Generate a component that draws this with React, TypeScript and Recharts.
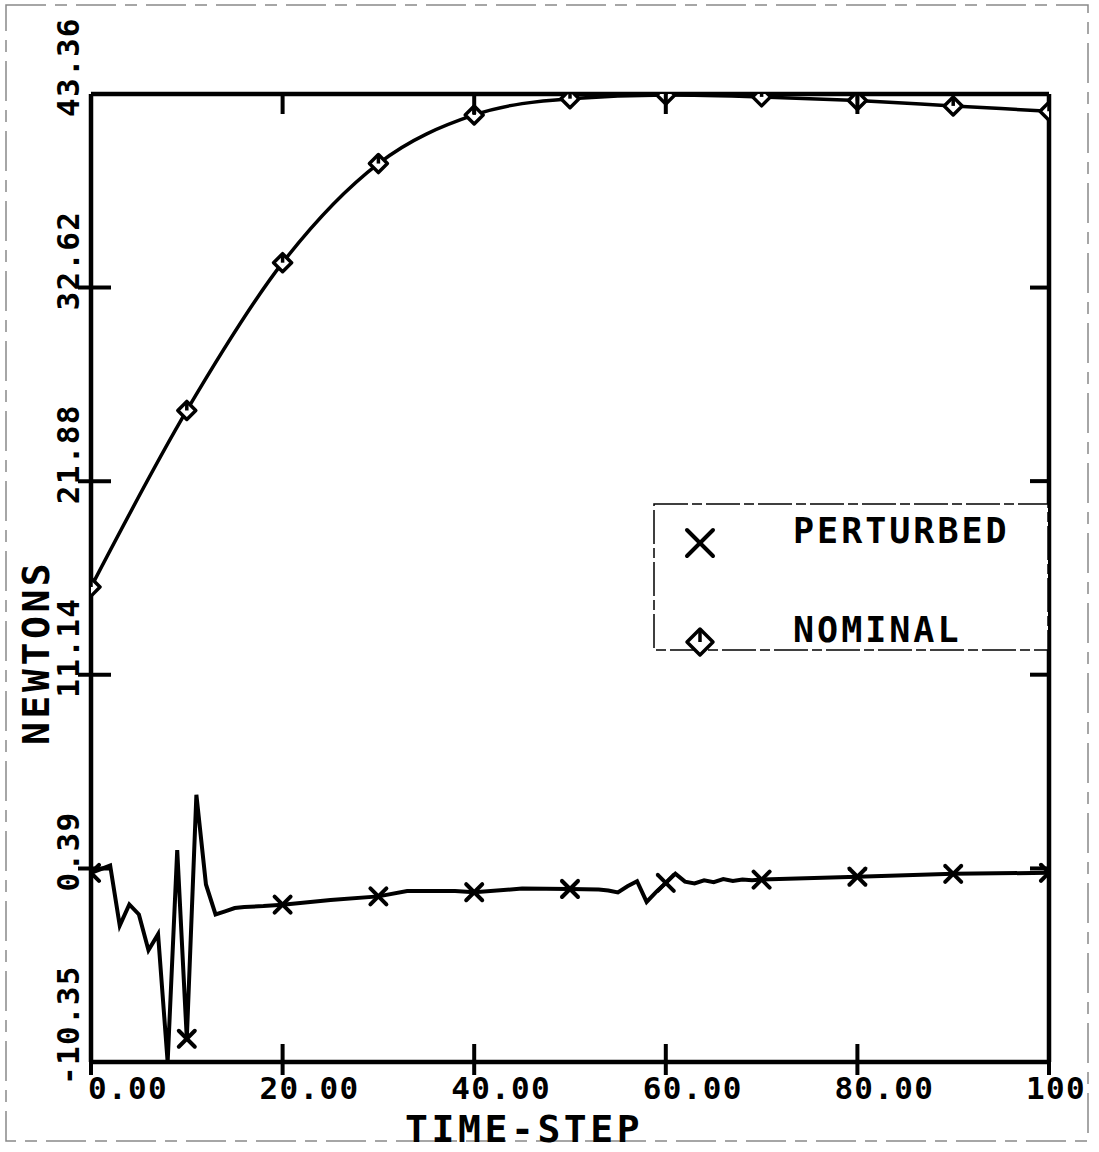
import { LineChart, Line, XAxis, YAxis, Legend, Label } from 'recharts'

// Nominal thrust, sampled every 10 time steps
const nominalSteps = [0, 10, 20, 30, 40, 50, 60, 70, 80, 90, 100]
const nominalForce = [16.0, 25.8, 34.0, 39.5, 42.2, 43.1, 43.3, 43.2, 43.0, 42.7, 42.4]

// Perturbed thrust (markers drawn every 10 steps only)
const perturbedSteps = [
  0, 2, 3, 4, 5, 6, 7, 8, 9, 10, 11, 12, 13, 14, 15, 16, 18, 20, 25, 30, 33, 38, 40, 45, 50, 53,
  54, 55, 56, 57, 58, 59, 60, 61, 62, 63, 64, 65, 66, 67, 68, 69, 70, 80, 90, 100,
]
const perturbedForce = [
  0.14, 0.55, -2.78, -1.61, -2.16, -4.15, -3.26, -10.35, 1.41, -9.06, 4.48, -0.5, -2.16, -1.99,
  -1.81, -1.75, -1.7, -1.62, -1.36, -1.16, -0.86, -0.86, -0.93, -0.73, -0.75, -0.78, -0.83, -0.94,
  -0.6, -0.32, -1.47, -0.91, -0.41, 0.1, -0.34, -0.44, -0.27, -0.37, -0.2, -0.3, -0.22, -0.26,
  -0.23, -0.07, 0.09, 0.15,
]

const xTicks = [0, 20, 40, 60, 80, 100]
const xTickLabels = ['0.00', '20.00', '40.00', '60.00', '80.00', '100']
const yTicks = [-10.35, 0.39, 11.14, 21.88, 32.62, 43.36]
const yTickLabels = ['-10.35', '0.39', '11.14', '21.88', '32.62', '43.36']

const nominal = nominalSteps.map((step, i) => ({ step, force: nominalForce[i] }))
const perturbed = perturbedSteps.map((step, i) => ({ step, force: perturbedForce[i] }))

const W = 1099
const H = 1152
const FONT = "'DejaVu Sans Mono', monospace"
const INK = '#000'

function Cross({ cx, cy, r }: { cx: number; cy: number; r: number }) {
  return (
    <g stroke={INK} strokeWidth={4} strokeLinecap="round">
      <line x1={cx - r} y1={cy - r} x2={cx + r} y2={cy + r} />
      <line x1={cx - r} y1={cy + r} x2={cx + r} y2={cy - r} />
    </g>
  )
}

function Diamond({ cx, cy, r }: { cx: number; cy: number; r: number }) {
  return (
    <g stroke={INK} strokeWidth={3.5} strokeLinejoin="round">
      <polygon points={`${cx},${cy - r} ${cx + r},${cy} ${cx},${cy + r} ${cx - r},${cy}`} fill="#fff" />
      <line x1={cx} y1={cy - r} x2={cx} y2={cy} />
    </g>
  )
}

function PerturbedDot(props: any) {
  const { cx, cy, payload, index } = props
  if (payload.step % 10 !== 0) return <g key={`p${index}`} />
  return <Cross key={`p${index}`} cx={cx} cy={cy} r={8} />
}

function NominalDot(props: any) {
  const { cx, cy, index } = props
  return <Diamond key={`n${index}`} cx={cx} cy={cy} r={9} />
}

const labelStyle = {
  fontFamily: FONT,
  fontSize: 31,
  fontWeight: 'bold' as const,
  letterSpacing: 1.3,
  fill: INK,
}
const titleStyle = {
  fontFamily: FONT,
  fontSize: 38,
  fontWeight: 'bold' as const,
  letterSpacing: 3.6,
  fill: INK,
}

function BottomTick({ x, y, index }: any) {
  return (
    <g>
      <line x1={x} x2={x} y1={y - 18} y2={y + 13} stroke={INK} strokeWidth={4} />
      <text x={index === 0 ? x - 3 : x - 23} y={y + 37} textAnchor="start" {...labelStyle}>
        {xTickLabels[index]}
      </text>
    </g>
  )
}

function TopTick({ x, y, index }: any) {
  if (index === 0 || index === xTicks.length - 1) return <g />
  return <line x1={x} x2={x} y1={y} y2={y + 20} stroke={INK} strokeWidth={4} />
}

function LeftTick({ x, y, index }: any) {
  const tx = x - 12
  const ty = y + 23
  return (
    <g>
      {index > 0 && index < yTicks.length - 1 && (
        <line x1={x - 13} x2={x + 20} y1={y} y2={y} stroke={INK} strokeWidth={4} />
      )}
      <text x={tx} y={ty} textAnchor="start" transform={`rotate(-90 ${tx} ${ty})`} {...labelStyle}>
        {yTickLabels[index]}
      </text>
    </g>
  )
}

function RightTick({ x, y, index }: any) {
  if (index === 0 || index === yTicks.length - 1) return <g />
  return <line x1={x - 19} x2={x} y1={y} y2={y} stroke={INK} strokeWidth={4} />
}

// Legend rows: PERTURBED on top, NOMINAL underneath
const legendRowY: Record<string, number> = { PERTURBED: 40, NOMINAL: 139 }

function LegendBox({ payload }: any) {
  const items = payload ?? []
  return (
    <svg width={396} height={148} style={{ overflow: 'visible', display: 'block' }}>
      <rect
        x={1}
        y={1}
        width={394}
        height={146}
        fill="#fff"
        stroke={INK}
        strokeWidth={1.5}
        strokeDasharray="34 4 10 4"
      />
      {items.map((entry: any) => {
        const cy = legendRowY[entry.value] ?? 40
        return (
          <g key={entry.value}>
            {entry.value === 'PERTURBED' ? (
              <Cross cx={47} cy={cy} r={13} />
            ) : (
              <Diamond cx={47} cy={cy} r={13} />
            )}
            <text
              x={140}
              y={cy}
              fontFamily={FONT}
              fontSize={35}
              fontWeight="bold"
              letterSpacing={3}
              fill={INK}
            >
              {entry.value}
            </text>
          </g>
        )
      })}
    </svg>
  )
}

export default function App() {
  const axisLine = { stroke: INK, strokeWidth: 4.5 }
  return (
    <div style={{ position: 'absolute', left: 0, top: 0, width: W, height: H, background: '#fff' }}>
      <svg width={W} height={H} style={{ position: 'absolute', left: 0, top: 0 }}>
        <rect
          x={6}
          y={5}
          width={1082}
          height={1136}
          fill="none"
          stroke="#555"
          strokeWidth={1.5}
          strokeDasharray="40 9 12 9"
          opacity={0.7}
        />
      </svg>
      <LineChart width={W} height={H} margin={{ top: 0, right: 0, bottom: 0, left: 0 }}>
        <XAxis
          dataKey="step"
          type="number"
          domain={[0, 100]}
          ticks={xTicks}
          allowDataOverflow
          height={90}
          tickSize={0}
          tickMargin={0}
          tickLine={false}
          axisLine={axisLine}
          tick={BottomTick}
          interval={0}
        >
          <Label
            content={() => (
              <text x={405} y={1142} {...titleStyle}>
                TIME-STEP
              </text>
            )}
          />
        </XAxis>
        <XAxis
          xAxisId="top"
          orientation="top"
          dataKey="step"
          type="number"
          domain={[0, 100]}
          ticks={xTicks}
          allowDataOverflow
          height={94}
          tickSize={0}
          tickMargin={0}
          tickLine={false}
          axisLine={axisLine}
          tick={TopTick}
          interval={0}
        />
        <YAxis
          type="number"
          domain={[-10.35, 43.36]}
          ticks={yTicks}
          allowDataOverflow
          width={91}
          tickSize={0}
          tickMargin={0}
          tickLine={false}
          axisLine={axisLine}
          tick={LeftTick}
          interval={0}
        >
          <Label
            content={() => (
              <text x={49} y={745} transform="rotate(-90 49 745)" {...titleStyle}>
                NEWTONS
              </text>
            )}
          />
        </YAxis>
        <YAxis
          yAxisId="right"
          orientation="right"
          type="number"
          domain={[-10.35, 43.36]}
          ticks={yTicks}
          allowDataOverflow
          width={50}
          tickSize={0}
          tickMargin={0}
          tickLine={false}
          axisLine={axisLine}
          tick={RightTick}
          interval={0}
        />
        <Legend
          layout="horizontal"
          verticalAlign="middle"
          align="center"
          wrapperStyle={{ left: 653, top: 503, width: 396, height: 148 }}
          content={LegendBox}
        />
        <Line
          data={perturbed}
          dataKey="force"
          name="PERTURBED"
          type="linear"
          stroke={INK}
          strokeWidth={4}
          dot={PerturbedDot}
          activeDot={false}
          isAnimationActive={false}
        />
        <Line
          data={nominal}
          dataKey="force"
          name="NOMINAL"
          type="monotone"
          stroke={INK}
          strokeWidth={3.5}
          dot={NominalDot}
          activeDot={false}
          isAnimationActive={false}
        />
      </LineChart>
    </div>
  )
}
